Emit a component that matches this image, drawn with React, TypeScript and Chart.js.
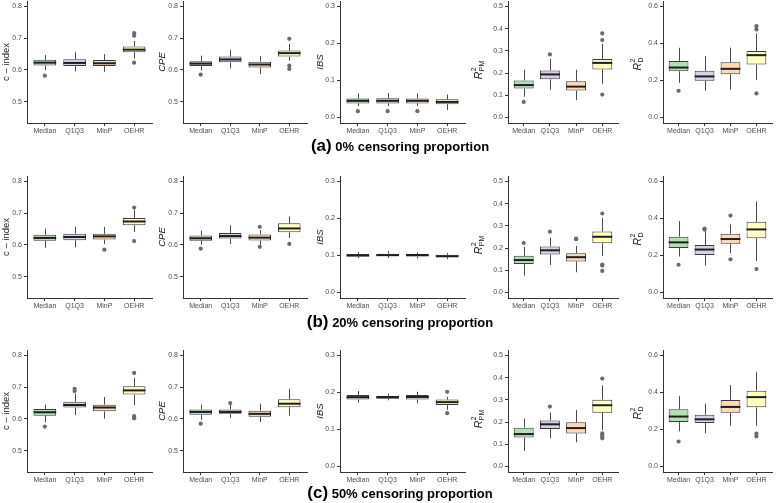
import React, { useEffect, useRef } from 'react';
import { Chart, registerables } from 'chart.js';
Chart.register(...registerables);

// ---------- data ----------
const methods = ['Median', 'Q1Q3', 'MinP', 'OEHR'];
const boxColors = ['#b2dfb2', '#d8d0e6', '#fed9b6', '#ffffc2'];

// each box: [lower whisker, Q1, median, Q3, upper whisker]
const cIndexA = [[0.599, 0.614, 0.623, 0.632, 0.647], [0.596, 0.612, 0.622, 0.634, 0.656], [0.594, 0.612, 0.621, 0.631, 0.650], [0.636, 0.656, 0.664, 0.674, 0.691]];
const cIndexAOut = [[0.582], [], [], [0.716, 0.708, 0.623]];
const cpeA = [[0.598, 0.612, 0.620, 0.627, 0.645], [0.605, 0.624, 0.633, 0.642, 0.664], [0.587, 0.608, 0.617, 0.626, 0.644], [0.629, 0.642, 0.653, 0.661, 0.682]];
const cpeAOut = [[0.585], [], [], [0.698, 0.614, 0.603]];
const ibsA = [[0.031, 0.038, 0.045, 0.051, 0.065], [0.031, 0.038, 0.045, 0.052, 0.066], [0.031, 0.038, 0.045, 0.051, 0.065], [0.020, 0.036, 0.042, 0.049, 0.062]];
const ibsAOut = [[0.017], [0.017], [0.017], []];
const pmA = [[0.093, 0.130, 0.146, 0.167, 0.215], [0.125, 0.172, 0.194, 0.212, 0.264], [0.078, 0.121, 0.139, 0.163, 0.215], [0.152, 0.216, 0.246, 0.264, 0.331]];
const pmAOut = [[0.070], [0.284], [], [0.379, 0.349, 0.103]];
const dA = [[0.187, 0.250, 0.270, 0.306, 0.377], [0.144, 0.198, 0.222, 0.252, 0.332], [0.151, 0.234, 0.263, 0.299, 0.378], [0.202, 0.286, 0.337, 0.360, 0.454]];
const dAOut = [[0.144], [], [], [0.494, 0.476, 0.130]];

const cIndexB = [[0.591, 0.613, 0.622, 0.632, 0.651], [0.593, 0.615, 0.625, 0.635, 0.657], [0.603, 0.617, 0.627, 0.635, 0.657], [0.641, 0.662, 0.674, 0.685, 0.710]];
const cIndexBOut = [[], [], [0.585], [0.718, 0.612]];
const cpeB = [[0.600, 0.613, 0.621, 0.630, 0.645], [0.603, 0.620, 0.628, 0.638, 0.662], [0.600, 0.614, 0.623, 0.633, 0.647], [0.622, 0.640, 0.652, 0.668, 0.690]];
const cpeBOut = [[0.588], [], [0.657, 0.594], [0.603]];
const ibsB = [[0.093, 0.097, 0.100, 0.104, 0.109], [0.093, 0.098, 0.101, 0.105, 0.112], [0.092, 0.097, 0.101, 0.104, 0.108], [0.090, 0.095, 0.098, 0.102, 0.107]];
const ibsBOut = [[], [], [], []];
const pmB = [[0.076, 0.128, 0.146, 0.165, 0.205], [0.124, 0.171, 0.190, 0.207, 0.247], [0.091, 0.140, 0.159, 0.177, 0.210], [0.165, 0.222, 0.251, 0.275, 0.336]];
const pmBOut = [[0.223], [0.274], [0.243, 0.240], [0.356, 0.126, 0.121, 0.097]];
const dB = [[0.195, 0.241, 0.271, 0.302, 0.386], [0.145, 0.202, 0.232, 0.257, 0.332], [0.213, 0.263, 0.289, 0.318, 0.368], [0.171, 0.293, 0.341, 0.382, 0.493]];
const dBOut = [[0.150], [0.345, 0.340], [0.416, 0.179], [0.127]];

const cIndexC = [[0.589, 0.610, 0.621, 0.631, 0.645], [0.612, 0.636, 0.644, 0.654, 0.680], [0.601, 0.624, 0.636, 0.645, 0.669], [0.643, 0.677, 0.690, 0.703, 0.729]];
const cIndexCOut = [[0.576], [0.695, 0.688], [], [0.745, 0.609, 0.604, 0.602]];
const cpeC = [[0.597, 0.613, 0.622, 0.630, 0.645], [0.603, 0.616, 0.622, 0.630, 0.645], [0.590, 0.607, 0.616, 0.626, 0.648], [0.610, 0.637, 0.648, 0.662, 0.695]];
const cpeCOut = [[0.585], [0.650], [], []];
const ibsC = [[0.173, 0.181, 0.1875, 0.193, 0.204], [0.179, 0.183, 0.1875, 0.191, 0.197], [0.171, 0.181, 0.188, 0.193, 0.202], [0.153, 0.166, 0.174, 0.181, 0.188]];
const ibsCOut = [[], [], [], [0.202, 0.144]];
const pmC = [[0.070, 0.130, 0.146, 0.175, 0.216], [0.127, 0.169, 0.190, 0.207, 0.243], [0.109, 0.149, 0.173, 0.199, 0.254], [0.164, 0.242, 0.276, 0.301, 0.366]];
const pmCOut = [[], [0.270], [], [0.396, 0.149, 0.142, 0.134, 0.127]];
const dC = [[0.190, 0.240, 0.270, 0.310, 0.380], [0.180, 0.235, 0.255, 0.280, 0.340], [0.220, 0.290, 0.322, 0.360, 0.440], [0.220, 0.320, 0.375, 0.410, 0.510]];
const dCOut = [[0.135], [], [], [0.178, 0.163]];

// axis ticks & ranges
const cTicks = [0.5, 0.6, 0.7, 0.8];
const cRange = [0.4325, 0.8175];
const ibsTicks = [0.0, 0.1, 0.2, 0.3];
const ibsRange = [-0.015, 0.315];
const pmTicks = [0.0, 0.1, 0.2, 0.3, 0.4, 0.5];
const pmRange = [-0.025, 0.525];
const dTicks = [0.0, 0.2, 0.4, 0.6];
const dRange = [-0.03, 0.63];

const captions = [
  ['(a)', ' 0% censoring proportion'],
  ['(b)', ' 20% censoring proportion'],
  ['(c)', ' 50% censoring proportion'],
];

// ---------- layout ----------
const FONT = "'Liberation Sans', Arial, Helvetica, sans-serif";
const COLS = [
  { axisX: 27, rightX: 152, title: { kind: 'text', text: 'c – index', italic: false }, dx: 21, dy: 0, ticks: cTicks, range: cRange },
  { axisX: 183, rightX: 307, title: { kind: 'text', text: 'CPE', italic: true }, dx: 21, dy: 0, ticks: cTicks, range: cRange },
  { axisX: 340, rightX: 465, title: { kind: 'text', text: 'IBS', italic: true }, dx: 20, dy: 0, ticks: ibsTicks, range: ibsRange },
  { axisX: 508, rightX: 618, title: { kind: 'r2', sub: 'PM' }, dx: 29, dy: 8, ticks: pmTicks, range: pmRange },
  { axisX: 663, rightX: 772, title: { kind: 'r2', sub: 'D' }, dx: 25, dy: 2, ticks: dTicks, range: dRange },
];
const ROWS = [
  { top: 1, bottom: 123, capTop: 136 },
  { top: 176, bottom: 298, capTop: 312 },
  { top: 350, bottom: 472, capTop: 483 },
];
const DATA = [
  [[cIndexA, cIndexAOut], [cpeA, cpeAOut], [ibsA, ibsAOut], [pmA, pmAOut], [dA, dAOut]],
  [[cIndexB, cIndexBOut], [cpeB, cpeBOut], [ibsB, ibsBOut], [pmB, pmBOut], [dB, dBOut]],
  [[cIndexC, cIndexCOut], [cpeC, cpeCOut], [ibsC, ibsCOut], [pmC, pmCOut], [dC, dCOut]],
];

const Y_AXIS_W = 20;
const X_AXIS_H = 20;
const PAD_TOP = 10;
const PAD_RIGHT = 6;
const LEFT_EXTRA = 45;

function geom(r: number, c: number) {
  const col = COLS[c];
  const row = ROWS[r];
  const left = col.axisX - LEFT_EXTRA;
  const top = row.top - PAD_TOP;
  const width = col.rightX - left + PAD_RIGHT;
  const height = row.bottom - row.top + PAD_TOP + X_AXIS_H;
  return { left, top, width, height };
}

function makeChart(canvas: HTMLCanvasElement, r: number, c: number) {
  const col: any = COLS[c];
  const [stats, outs] = DATA[r][c] as any;
  const boxPlugin = {
    id: 'boxparts',
    beforeDatasetsDraw(chart: any) {
      const ctx = chart.ctx;
      const xs = chart.scales.x;
      const ys = chart.scales.y;
      ctx.save();
      ctx.strokeStyle = '#4a4a4a';
      ctx.lineWidth = 1;
      stats.forEach((s: number[], i: number) => {
        const x = Math.round(xs.getPixelForValue(i + 1)) + 0.5;
        ctx.beginPath();
        ctx.moveTo(x, ys.getPixelForValue(s[0]));
        ctx.lineTo(x, ys.getPixelForValue(s[1]));
        ctx.moveTo(x, ys.getPixelForValue(s[3]));
        ctx.lineTo(x, ys.getPixelForValue(s[4]));
        ctx.stroke();
      });
      ctx.restore();
    },
    afterDatasetDraw(chart: any, args: any) {
      if (args.index !== 0) return;
      const ctx = chart.ctx;
      const ys = chart.scales.y;
      const meta = chart.getDatasetMeta(0);
      ctx.save();
      ctx.strokeStyle = '#1e1e1e';
      ctx.lineWidth = 2;
      stats.forEach((s: number[], i: number) => {
        const el = meta.data[i];
        const w = el.width;
        const y = ys.getPixelForValue(s[2]);
        ctx.beginPath();
        ctx.moveTo(el.x - w / 2, y);
        ctx.lineTo(el.x + w / 2, y);
        ctx.stroke();
      });
      ctx.restore();
    },
  };
  const titlePlugin = {
    id: 'ytitle',
    afterDraw(chart: any) {
      const ctx = chart.ctx;
      const a = chart.chartArea;
      const x = a.left - col.dx;
      const y = (a.top + a.bottom) / 2 + col.dy;
      ctx.save();
      ctx.translate(x, y);
      ctx.rotate(-Math.PI / 2);
      ctx.fillStyle = '#1a1a1a';
      ctx.textBaseline = 'middle';
      const t = col.title;
      if (t.kind === 'text') {
        ctx.textAlign = 'center';
        ctx.font = `${t.italic ? 'italic ' : ''}9.5px ${FONT}`;
        ctx.fillText(t.text, 0, 0);
      } else {
        ctx.textAlign = 'left';
        ctx.font = `italic 10.5px ${FONT}`;
        const wR = ctx.measureText('R').width;
        ctx.font = `7px ${FONT}`;
        const w2 = ctx.measureText('2').width;
        const wS = ctx.measureText(t.sub).width;
        const total = wR + 0.5 + Math.max(w2, wS);
        const x0 = -total / 2;
        ctx.font = `italic 10.5px ${FONT}`;
        ctx.fillText('R', x0, 0);
        ctx.font = `7px ${FONT}`;
        ctx.fillText('2', x0 + wR + 0.5, -4.5);
        ctx.fillText(t.sub, x0 + wR + 0.5, 3.5);
      }
      ctx.restore();
    },
  };

  const g = geom(r, c);
  const tickFont = { family: FONT, size: 7 };
  return new Chart(canvas, {
    type: 'bar',
    data: {
      datasets: [
        {
          type: 'bar',
          data: stats.map((s: number[], i: number) => ({ x: i + 1, y: [s[1], s[3]] })),
          backgroundColor: boxColors,
          borderColor: '#3a3a3a',
          borderWidth: 1,
          borderSkipped: false,
          barPercentage: 0.76,
          categoryPercentage: 1,
          order: 2,
        } as any,
        {
          type: 'scatter',
          data: outs.flatMap((arr: number[], i: number) => arr.map((v) => ({ x: i + 1, y: v }))),
          pointRadius: 2.1,
          pointBackgroundColor: '#6b6b6b',
          pointBorderColor: '#6b6b6b',
          pointBorderWidth: 0,
          order: 1,
        } as any,
      ],
    },
    options: {
      responsive: false,
      animation: false,
      events: [],
      layout: { padding: { left: col.axisX - g.left - Y_AXIS_W, right: PAD_RIGHT, top: PAD_TOP, bottom: 0 } },
      plugins: { legend: { display: false }, tooltip: { enabled: false }, title: { display: false } },
      scales: {
        x: {
          type: 'linear',
          min: 0.4,
          max: 4.6,
          offset: false,
          afterBuildTicks: (ax: any) => { ax.ticks = methods.map((_, i) => ({ value: i + 1 })); },
          afterFit: (s: any) => { s.height = X_AXIS_H; },
          ticks: { callback: (v: any) => methods[Math.round(v) - 1], font: tickFont, color: '#4d4d4d', padding: 1, maxRotation: 0, autoSkip: false },
          grid: { display: true, drawOnChartArea: false, drawTicks: true, tickLength: 3, color: '#333', offset: false },
          border: { display: true, color: '#333', width: 1 },
        },
        y: {
          type: 'linear',
          min: col.range[0],
          max: col.range[1],
          afterBuildTicks: (ax: any) => { ax.ticks = col.ticks.map((v: number) => ({ value: v })); },
          afterFit: (s: any) => { s.width = Y_AXIS_W; },
          ticks: { callback: (v: any) => Number(v).toFixed(1), font: tickFont, color: '#4d4d4d', padding: 2, autoSkip: false },
          grid: { display: true, drawOnChartArea: false, drawTicks: true, tickLength: 3, color: '#333' },
          border: { display: true, color: '#333', width: 1 },
        },
      },
    } as any,
    plugins: [boxPlugin, titlePlugin],
  });
}

function Panel({ r, c }: { r: number; c: number }) {
  const ref = useRef<HTMLCanvasElement | null>(null);
  useEffect(() => {
    if (!ref.current) return;
    const ch = makeChart(ref.current, r, c);
    return () => ch.destroy();
  }, [r, c]);
  const g = geom(r, c);
  return (
    <canvas
      ref={ref}
      width={g.width}
      height={g.height}
      style={{ position: 'absolute', left: g.left, top: g.top, width: g.width, height: g.height }}
    />
  );
}

export default function App() {
  return (
    <div style={{ position: 'absolute', left: 0, top: 0, width: 778, height: 503, overflow: 'hidden', background: '#fff' }}>
      {ROWS.map((row, r) =>
        COLS.map((_, c) => <Panel key={`${r}-${c}`} r={r} c={c} />)
      )}
      {ROWS.map((row, r) => (
        <div
          key={`cap${r}`}
          style={{
            position: 'absolute',
            left: 400,
            top: row.capTop,
            transform: 'translateX(-50%)',
            whiteSpace: 'nowrap',
            fontFamily: FONT,
            fontWeight: 'bold',
            color: '#000',
            lineHeight: '20px',
          }}
        >
          <span style={{ fontSize: 17 }}>{captions[r][0]}</span>
          <span style={{ fontSize: 13 }}>{captions[r][1]}</span>
        </div>
      ))}
    </div>
  );
}
